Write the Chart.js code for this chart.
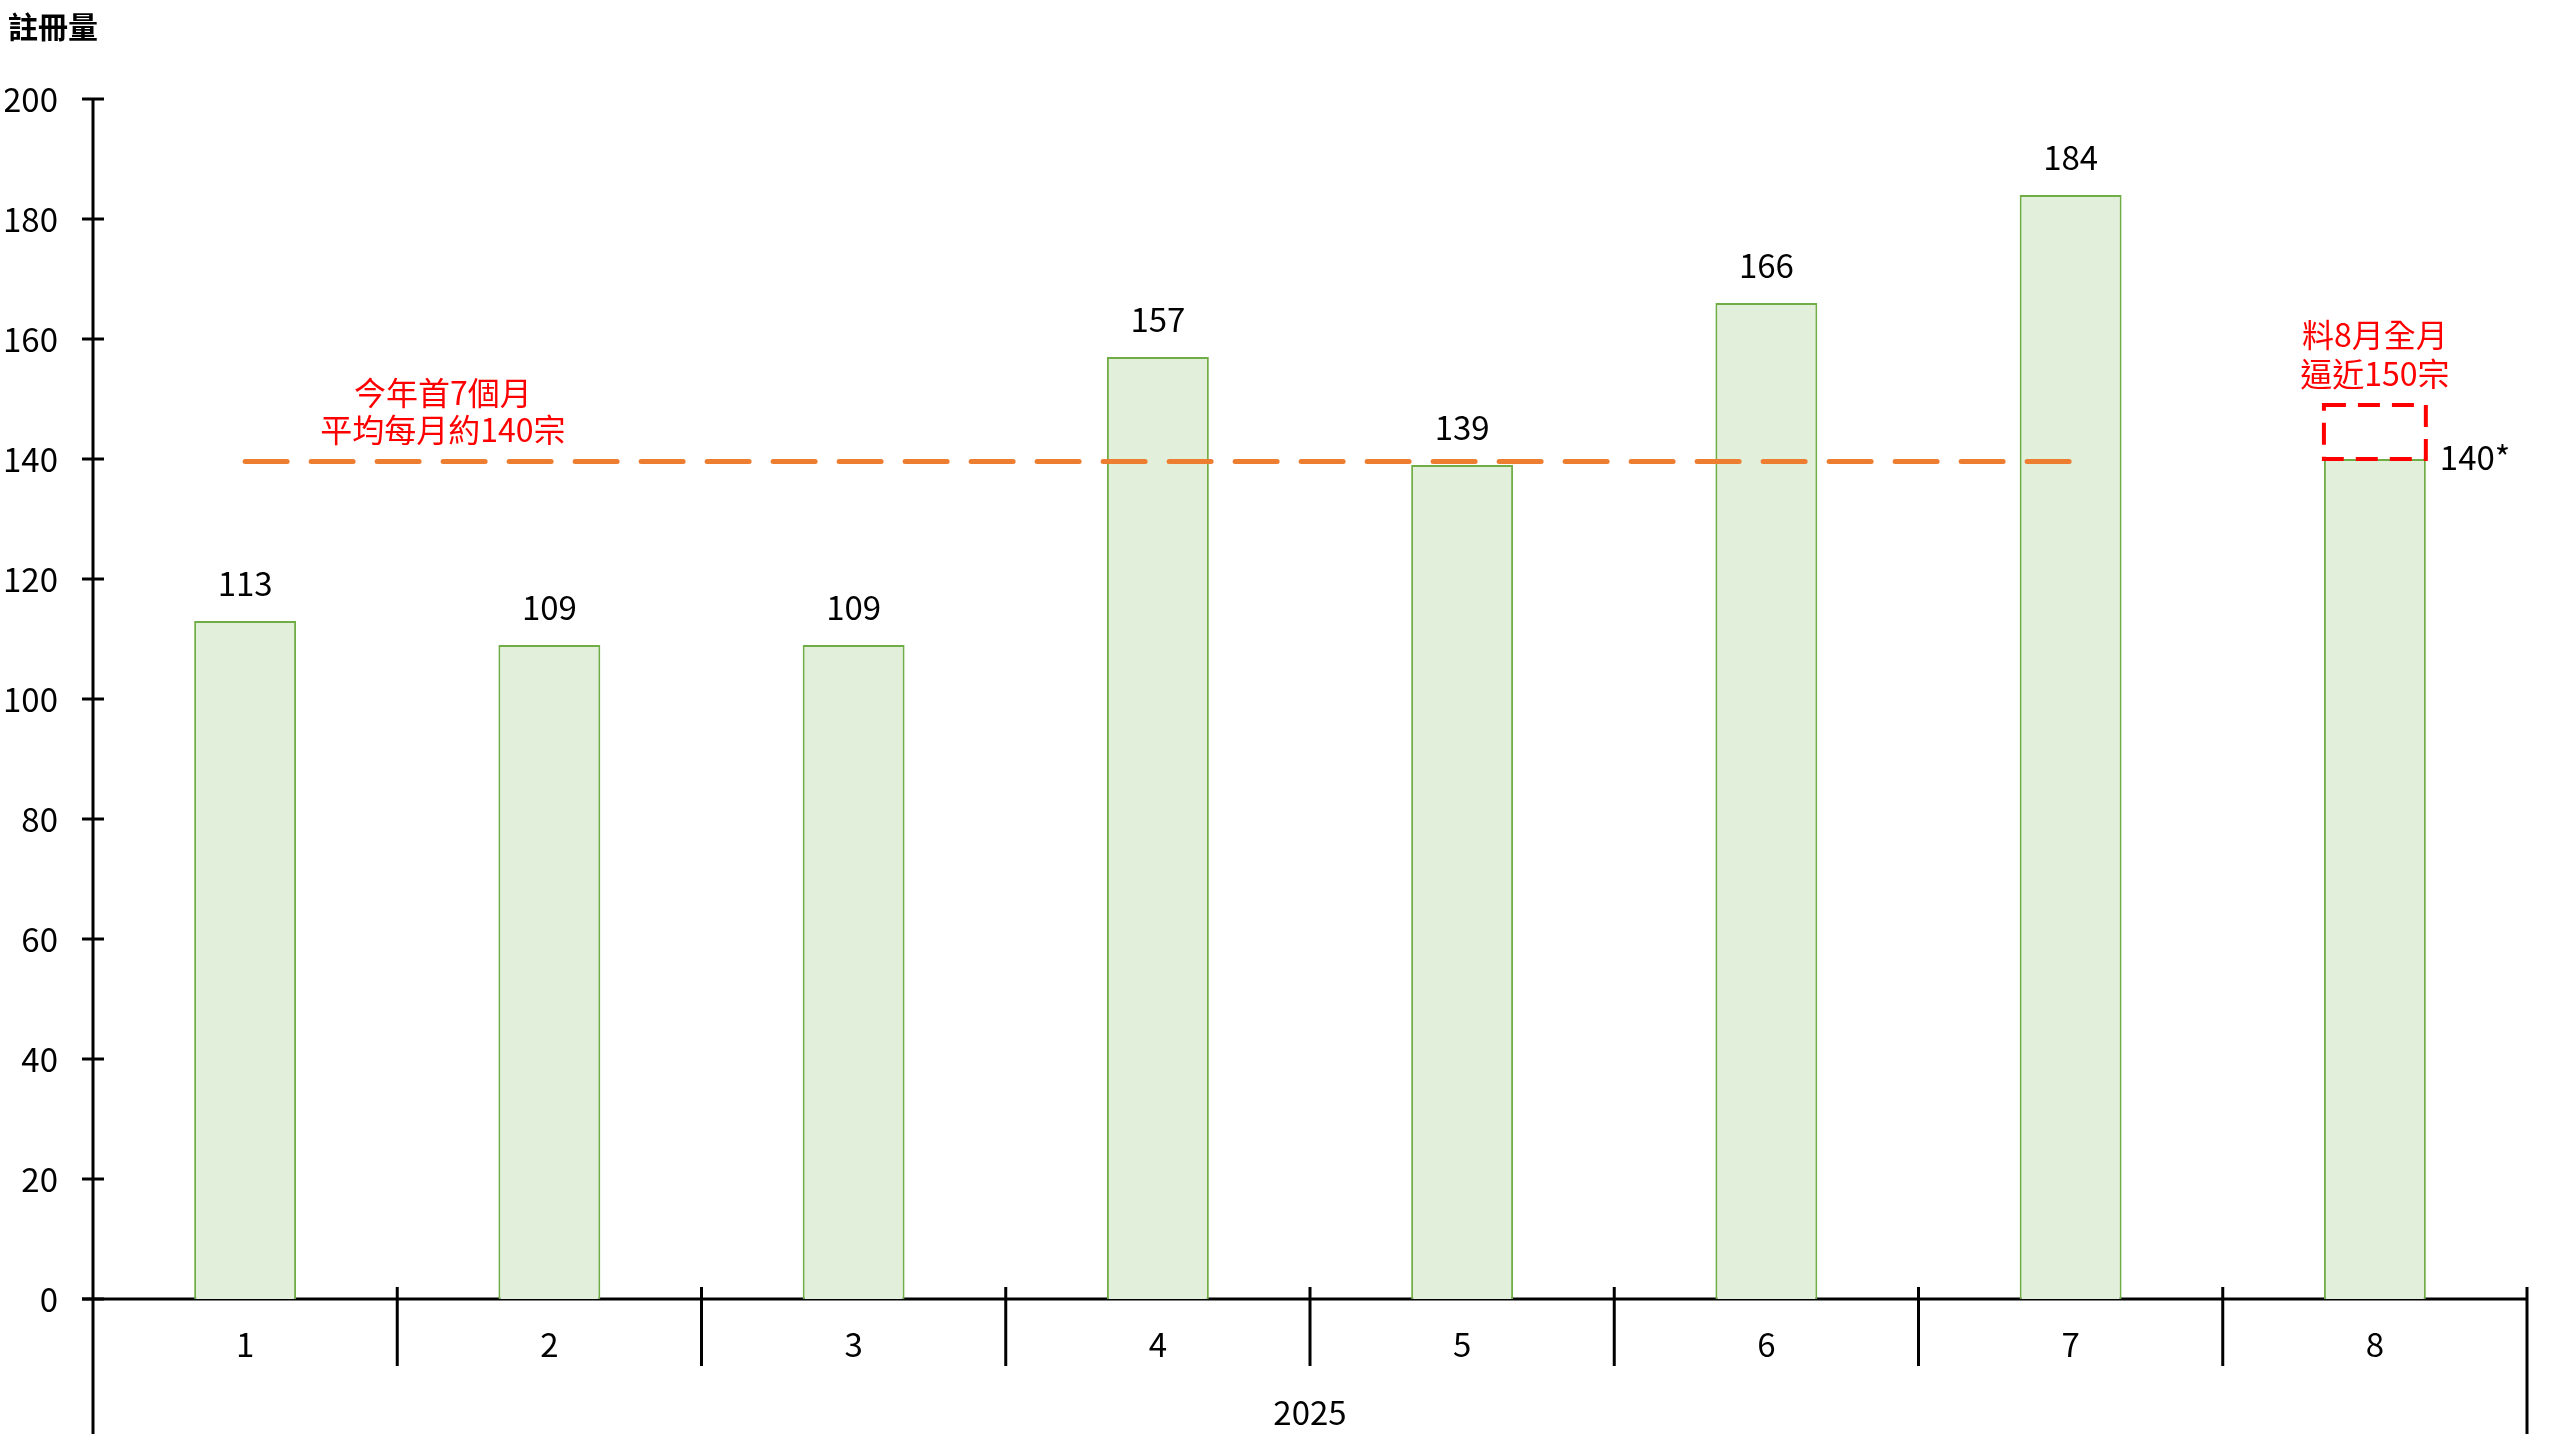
<!DOCTYPE html>
<html lang="zh-Hant">
<head>
<meta charset="utf-8">
<title>註冊量</title>
<script src="https://cdn.jsdelivr.net/npm/chart.js@4/dist/chart.umd.min.js"></script>
<style>
  html, body { margin: 0; padding: 0; background: #ffffff; }
  #wrap { width: 2556px; height: 1434px; position: relative; }
</style>
</head>
<body>
<div id="wrap"><canvas id="registrationChart"></canvas></div>
<script>
const months = ["1", "2", "3", "4", "5", "6", "7", "8"];
const registrations = [113, 109, 109, 157, 139, 166, 184, 140];
const valueLabels = ["113", "109", "109", "157", "139", "166", "184", "140*"];
const averageLine = [139.6, 139.6, 139.6, 139.6, 139.6, 139.6, 139.6, null];
const forecastRange = [null, null, null, null, null, null, null, [140, 149]];
const yTicks = [0, 20, 40, 60, 80, 100, 120, 140, 160, 180, 200];
const yearLabel = "2025";
const yAxisTitle = "註冊量";
const averageNote = ["今年首7個月", "平均每月約140宗"];
const forecastNote = ["料8月全月", "逼近150宗"];

const FONT = '"Noto Sans CJK TC", "Noto Sans", sans-serif';

const axisPlugin = {
  id: "axisFurniture",
  beforeDatasetsDraw(chart) {
    const { ctx, chartArea, scales } = chart;
    const y = scales.y;
    const bottom = chart.height;
    const step = (chartArea.right - chartArea.left) / months.length;

    ctx.save();
    ctx.strokeStyle = "#000000";
    ctx.lineWidth = 3;
    ctx.lineCap = "butt";

    // y axis line runs down through the category area
    ctx.beginPath();
    ctx.moveTo(chartArea.left, chartArea.top);
    ctx.lineTo(chartArea.left, bottom);
    ctx.stroke();

    yTicks.forEach(value => {
      const py = y.getPixelForValue(value);
      ctx.beginPath();
      ctx.moveTo(chartArea.left - 11, py);
      ctx.lineTo(chartArea.left + 11, py);
      ctx.stroke();
    });

    ctx.beginPath();
    ctx.moveTo(chartArea.left - 11, chartArea.bottom);
    ctx.lineTo(chartArea.right, chartArea.bottom);
    ctx.stroke();

    for (let i = 1; i <= months.length; i++) {
      const px = chartArea.left + step * i;
      ctx.beginPath();
      ctx.moveTo(px, chartArea.bottom - 12);
      ctx.lineTo(px, i === months.length ? bottom : chartArea.bottom + 67);
      ctx.stroke();
    }

    ctx.fillStyle = "#000000";
    ctx.font = "bold 30px " + FONT;
    ctx.textAlign = "left";
    ctx.textBaseline = "middle";
    ctx.fillText(yAxisTitle, 8, 27);
    ctx.restore();
  },
  afterDatasetsDraw(chart) {
    const { ctx, scales } = chart;
    const x = scales.x;
    const y = scales.y;
    const bars = chart.getDatasetMeta(0).data;
    const box = chart.getDatasetMeta(2).data[7];

    ctx.save();

    // dashed forecast box on top of the August bar
    if (box) {
      const half = box.width / 2;
      ctx.strokeStyle = "#FF0000";
      ctx.lineWidth = 4;
      ctx.setLineDash([22, 12]);
      ctx.strokeRect(box.x - half, box.y, box.width, box.base - box.y);
      ctx.setLineDash([]);
    }

    ctx.fillStyle = "#000000";
    ctx.font = "33px " + FONT;
    ctx.textBaseline = "middle";
    bars.forEach((bar, i) => {
      if (i === bars.length - 1) {
        ctx.textAlign = "left";
        ctx.fillText(valueLabels[i], bar.x + bar.width / 2 + 14, bar.y - 2);
      } else {
        ctx.textAlign = "center";
        ctx.fillText(valueLabels[i], bar.x, bar.y - 38);
      }
    });

    ctx.fillStyle = "#FF0000";
    ctx.font = "32px " + FONT;
    ctx.textAlign = "center";
    const lineY = y.getPixelForValue(averageLine[0]);
    const noteX = x.getPixelForValue(0.65);
    ctx.fillText(averageNote[0], noteX, lineY - 69);
    ctx.fillText(averageNote[1], noteX, lineY - 32);

    if (box) {
      ctx.fillText(forecastNote[0], box.x, box.y - 70);
      ctx.fillText(forecastNote[1], box.x, box.y - 31);
    }
    ctx.restore();
  }
};

function renderChart() {
  const ctx = document.getElementById("registrationChart");

  new Chart(ctx, {
    data: {
      labels: months,
      datasets: [
        {
          type: "bar",
          data: registrations,
          backgroundColor: "#E2EFDA",
          borderColor: "#70AD47",
          borderWidth: 2,
          borderSkipped: "bottom",
          grouped: false,
          barPercentage: 0.335,
          categoryPercentage: 1,
          order: 2
        },
        {
          type: "line",
          data: averageLine,
          borderColor: "#ED7D31",
          borderWidth: 5,
          borderDash: [42, 24],
          borderCapStyle: "round",
          pointRadius: 0,
          fill: false,
          order: 0
        },
        {
          type: "bar",
          data: forecastRange,
          backgroundColor: "rgba(0,0,0,0)",
          borderWidth: 0,
          grouped: false,
          barPercentage: 0.335,
          categoryPercentage: 1,
          order: 1
        }
      ]
    },
    options: {
      responsive: true,
      maintainAspectRatio: false,
      animation: false,
      layout: {
        padding: { left: 5, right: 29, top: 99, bottom: 0 }
      },
      plugins: {
        legend: { display: false },
        tooltip: { enabled: false }
      },
      scales: {
        x: {
          offset: true,
          grid: { display: false, drawTicks: false },
          border: { display: false },
          ticks: {
            color: "#000000",
            font: { family: FONT, size: 33 },
            padding: 26,
            maxRotation: 0
          },
          title: {
            display: true,
            text: yearLabel,
            color: "#000000",
            font: { family: FONT, size: 33 },
            padding: { top: 0, bottom: 2 }
          },
          afterFit(scale) {
            scale.height = 135;
          }
        },
        y: {
          min: 0,
          max: 200,
          grid: { display: false, drawTicks: false },
          border: { display: false },
          ticks: {
            stepSize: 20,
            color: "#000000",
            font: { family: FONT, size: 33 },
            padding: 35
          },
          afterFit(scale) {
            scale.width = 88;
          }
        }
      }
    },
    plugins: [axisPlugin]
  });
}

renderChart();
</script>
</body>
</html>
